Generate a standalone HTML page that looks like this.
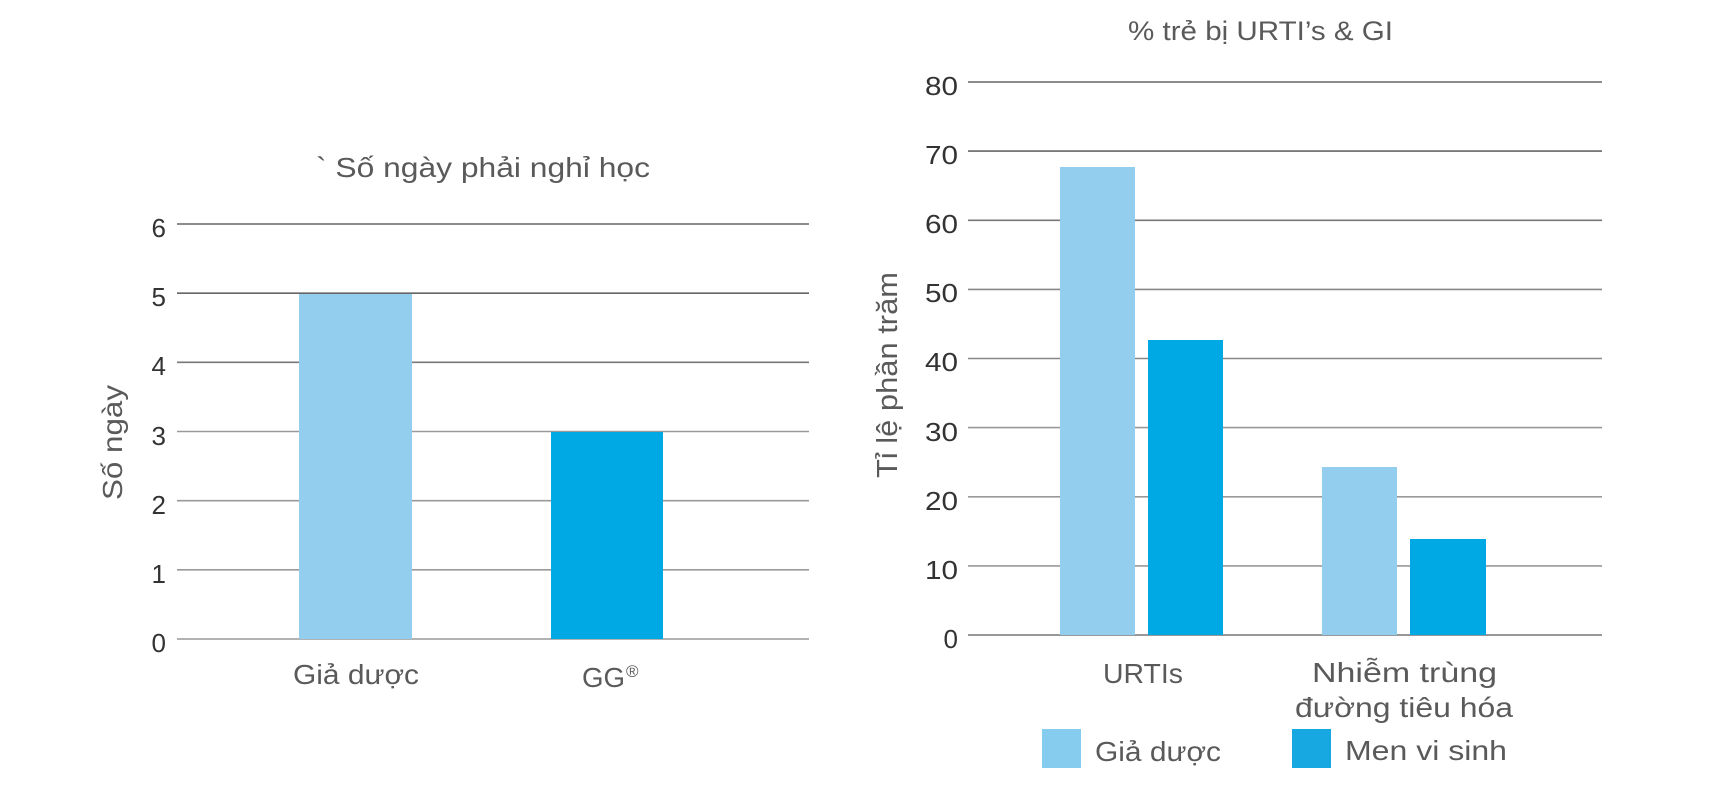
<!DOCTYPE html>
<html>
<head>
<meta charset="utf-8">
<style>
html,body{margin:0;padding:0;background:#fff;}
svg{display:block;}
text{font-family:"Liberation Sans","DejaVu Sans",sans-serif;}
.t{fill:#5a5a5a;font-size:28px;}
.k{fill:#333;font-size:26px;}
</style>
</head>
<body>
<svg width="1719" height="793" viewBox="0 0 1719 793" xmlns="http://www.w3.org/2000/svg">
<rect width="1719" height="793" fill="#fff"/>

<!-- LEFT CHART -->
<text class="t" x="316" y="177" textLength="334" lengthAdjust="spacingAndGlyphs">` Số ngày phải nghỉ học</text>

<g stroke-width="1.6">
<line x1="177" x2="809" y1="224" y2="224" stroke="#666"/>
<line x1="177" x2="809" y1="293.2" y2="293.2" stroke="#666"/>
<line x1="177" x2="809" y1="362.3" y2="362.3" stroke="#777"/>
<line x1="177" x2="809" y1="431.5" y2="431.5" stroke="#999"/>
<line x1="177" x2="809" y1="500.7" y2="500.7" stroke="#999"/>
<line x1="177" x2="809" y1="569.8" y2="569.8" stroke="#9a9a9a"/>
<line x1="177" x2="809" y1="639" y2="639" stroke="#999"/>
</g>

<g class="k" text-anchor="end">
<text x="166" y="237">6</text>
<text x="166" y="306">5</text>
<text x="166" y="375">4</text>
<text x="166" y="445">3</text>
<text x="166" y="514">2</text>
<text x="166" y="583">1</text>
<text x="166" y="652">0</text>
</g>

<rect x="299" y="294" width="113" height="345" fill="#93ceee"/>
<rect x="551" y="432" width="112" height="207" fill="#00a9e3"/>

<text class="t" x="293" y="684" textLength="126" lengthAdjust="spacingAndGlyphs">Giả dược</text>
<text class="t" x="582" y="687" textLength="43" lengthAdjust="spacingAndGlyphs">GG</text>
<text x="626" y="677" style="fill:#5a5a5a;font-size:17px;">®</text>

<text class="t" transform="translate(122,442.5) rotate(-90)" text-anchor="middle" textLength="115" lengthAdjust="spacingAndGlyphs">Số ngày</text>

<!-- RIGHT CHART -->
<text class="t" x="1128" y="40" textLength="265" lengthAdjust="spacingAndGlyphs" style="font-size:27px;">% trẻ bị URTI’s &amp; GI</text>

<g stroke-width="1.6">
<line x1="968" x2="1602" y1="82" y2="82" stroke="#666"/>
<line x1="968" x2="1602" y1="151.1" y2="151.1" stroke="#666"/>
<line x1="968" x2="1602" y1="220.3" y2="220.3" stroke="#777"/>
<line x1="968" x2="1602" y1="289.4" y2="289.4" stroke="#888"/>
<line x1="968" x2="1602" y1="358.5" y2="358.5" stroke="#888"/>
<line x1="968" x2="1602" y1="427.6" y2="427.6" stroke="#999"/>
<line x1="968" x2="1602" y1="496.8" y2="496.8" stroke="#999"/>
<line x1="968" x2="1602" y1="565.9" y2="565.9" stroke="#999"/>
<line x1="968" x2="1602" y1="635" y2="635" stroke="#777"/>
</g>

<g class="k" text-anchor="end" lengthAdjust="spacingAndGlyphs">
<text x="958" y="95" textLength="33" lengthAdjust="spacingAndGlyphs">80</text>
<text x="958" y="164" textLength="33" lengthAdjust="spacingAndGlyphs">70</text>
<text x="958" y="233" textLength="33" lengthAdjust="spacingAndGlyphs">60</text>
<text x="958" y="302" textLength="33" lengthAdjust="spacingAndGlyphs">50</text>
<text x="958" y="371" textLength="33" lengthAdjust="spacingAndGlyphs">40</text>
<text x="958" y="441" textLength="33" lengthAdjust="spacingAndGlyphs">30</text>
<text x="958" y="510" textLength="33" lengthAdjust="spacingAndGlyphs">20</text>
<text x="958" y="579" textLength="33" lengthAdjust="spacingAndGlyphs">10</text>
<text x="958" y="648">0</text>
</g>

<rect x="1060" y="167" width="75" height="468" fill="#93ceee"/>
<rect x="1148" y="340" width="75" height="295" fill="#00a9e3"/>
<rect x="1322" y="467" width="75" height="168" fill="#93ceee"/>
<rect x="1410" y="539" width="76" height="96" fill="#00a9e3"/>

<text class="t" x="1103" y="683" textLength="80" lengthAdjust="spacingAndGlyphs">URTIs</text>
<text class="t" x="1312" y="682" textLength="185" lengthAdjust="spacingAndGlyphs">Nhiễm trùng</text>
<text class="t" x="1295" y="717" textLength="218" lengthAdjust="spacingAndGlyphs">đường tiêu hóa</text>

<rect x="1042" y="729" width="39" height="39" fill="#85ccef"/>
<text class="t" x="1095" y="761" textLength="126" lengthAdjust="spacingAndGlyphs">Giả dược</text>
<rect x="1292" y="729" width="39" height="39" fill="#17a8e1"/>
<text class="t" x="1345" y="760" textLength="162" lengthAdjust="spacingAndGlyphs">Men vi sinh</text>

<text class="t" transform="translate(897,375) rotate(-90)" text-anchor="middle" textLength="206" lengthAdjust="spacingAndGlyphs" style="font-size:29px;">Tỉ lệ phần trăm</text>
</svg>
</body>
</html>
